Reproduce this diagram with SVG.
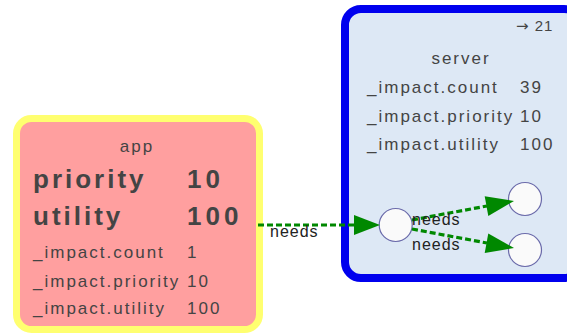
<svg xmlns="http://www.w3.org/2000/svg" width="567" height="334" viewBox="0 0 567 334">
<style>
.t{font-family:"Liberation Sans",Arial,sans-serif;font-size:17px;letter-spacing:2px;fill:#444}
.b{font-family:"Liberation Sans",Arial,sans-serif;font-size:26px;font-weight:bold;letter-spacing:3px;fill:#444}
.bn{letter-spacing:4px}
.s{font-family:"Liberation Sans",Arial,sans-serif;font-size:15px;letter-spacing:1px;fill:#444}
.lbl{font-family:"Liberation Sans",Arial,sans-serif;font-size:16px;letter-spacing:1px;fill:#222}
.e{stroke:#008800;stroke-width:3.2;stroke-dasharray:6,3;fill:none}
.ah{fill:#008800}
.c{fill:#fafafa;stroke:#6a6aaa;stroke-width:1.2}
</style>
<rect width="567" height="334" fill="#ffffff"/>
<g id="app">
<rect x="16.5" y="118.5" width="243" height="211" rx="15" fill="#ff9f9f" stroke="#ffff70" stroke-width="7"/>
<text class="t" x="137" y="152" text-anchor="middle">app</text>
<text class="b" x="33" y="188">priority</text>
<text class="b bn" x="187" y="188">10</text>
<text class="b" x="33" y="225">utility</text>
<text class="b bn" x="187" y="225">100</text>
<text class="t" x="33" y="258">_impact.count</text>
<text class="t" x="187" y="258">1</text>
<text class="t" x="33" y="287">_impact.priority</text>
<text class="t" x="187" y="287">10</text>
<text class="t" x="33" y="314">_impact.utility</text>
<text class="t" x="187" y="314">100</text>
</g>
<g id="server">
<rect x="345" y="9" width="235" height="269" rx="16" fill="#dde8f5" stroke="#0000ee" stroke-width="8"/>
<text class="s" x="516" y="31"><tspan font-family="'DejaVu Sans',sans-serif" font-size="15">→</tspan> 21</text>
<text class="t" x="461" y="64" text-anchor="middle">server</text>
<text class="t" x="367" y="93">_impact.count</text>
<text class="t" x="520" y="93">39</text>
<text class="t" x="367" y="122">_impact.priority</text>
<text class="t" x="520" y="122">10</text>
<text class="t" x="367" y="150">_impact.utility</text>
<text class="t" x="520" y="150">100</text>
</g>
<g id="n1"><circle class="c" cx="395.7" cy="225" r="16.5"/></g>
<g id="n2"><circle class="c" cx="525" cy="199" r="16.5"/></g>
<g id="n3"><circle class="c" cx="525" cy="250" r="16.5"/></g>
<g id="connectors">
<line class="e" x1="258" y1="225" x2="355" y2="225"/>
<polygon class="ah" points="354,215 380,225 354,235"/>
<line class="e" x1="412" y1="220" x2="487" y2="206"/>
<polygon class="ah" points="484.7,196.3 514,201 488.3,215.9"/>
<line class="e" x1="412" y1="229" x2="487" y2="243"/>
<polygon class="ah" points="488.3,233.4 514,248 484.7,253"/>
<text class="lbl" x="270" y="237">needs</text>
<text class="lbl" x="412" y="225">needs</text>
<text class="lbl" x="412" y="250">needs</text>
</g>
</svg>
